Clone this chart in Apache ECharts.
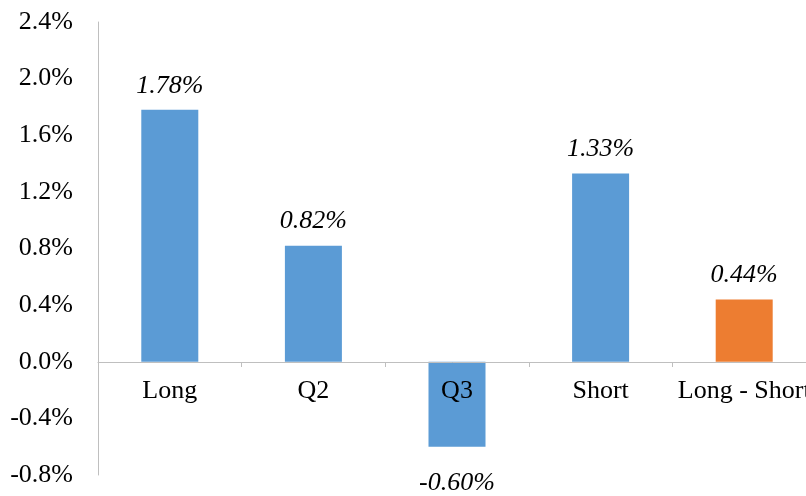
<!DOCTYPE html>
<html>
<head>
<meta charset="utf-8">
<script src="https://cdn.jsdelivr.net/npm/echarts@6/dist/echarts.min.js"></script>
<style>
  html, body { margin: 0; padding: 0; background: #fff; }
  #chart { width: 806px; height: 496px; }
</style>
</head>
<body>
<div id="chart"></div>
<script>
const categories = ['Long', 'Q2', 'Q3', 'Short', 'Long - Short'];
const returns = [1.78, 0.82, -0.60, 1.33, 0.44];
const barColors = ['#5B9BD5', '#5B9BD5', '#5B9BD5', '#5B9BD5', '#ED7D31'];
const yMin = -0.8, yMax = 2.4;

const font = '"Liberation Serif", "Times New Roman", serif';
const gridTop = 22, gridBottom = 21, chartH = 496;
// move the category axis up to the zero line
const plotH = chartH - gridTop - gridBottom;
const zeroOffset = -Math.round(plotH * (0 - yMin) / (yMax - yMin));

let chart = echarts.init(document.getElementById('chart'));
let option = {
  animation: false,
  grid: {
    left: 98,
    top: gridTop,
    width: 718,
    bottom: gridBottom,
    outerBoundsMode: 'none',
    containLabel: false
  },
  xAxis: {
    type: 'category',
    data: categories,
    position: 'bottom',
    offset: zeroOffset,
    z: 5,
    axisLine: { onZero: false, lineStyle: { color: '#BFBFBF', width: 1 } },
    axisTick: { show: true, length: 5, lineStyle: { color: '#BFBFBF' } },
    axisLabel: {
      color: '#000',
      fontFamily: font,
      fontSize: 26,
      margin: 16,
      interval: 0,
      hideOverlap: false
    },
    splitLine: { show: false }
  },
  yAxis: {
    type: 'value',
    min: yMin,
    max: yMax,
    interval: 0.4,
    axisLine: { show: true, lineStyle: { color: '#BFBFBF', width: 1 } },
    axisTick: { show: false },
    splitLine: { show: false },
    axisLabel: {
      color: '#000',
      fontFamily: font,
      fontSize: 26,
      margin: 25,
      formatter: v => v.toFixed(1) + '%'
    }
  },
  series: [{
    type: 'bar',
    barWidth: 57,
    data: returns.map((v, i) => ({
      value: v,
      itemStyle: { color: barColors[i] },
      label: v < 0 ? { position: 'bottom', distance: 23 } : { position: 'top', distance: 11 }
    })),
    label: {
      show: true,
      color: '#000',
      fontFamily: font,
      fontSize: 26,
      fontStyle: 'italic',
      formatter: p => p.value.toFixed(2) + '%'
    }
  }]
};
chart.setOption(option);
</script>
</body>
</html>
